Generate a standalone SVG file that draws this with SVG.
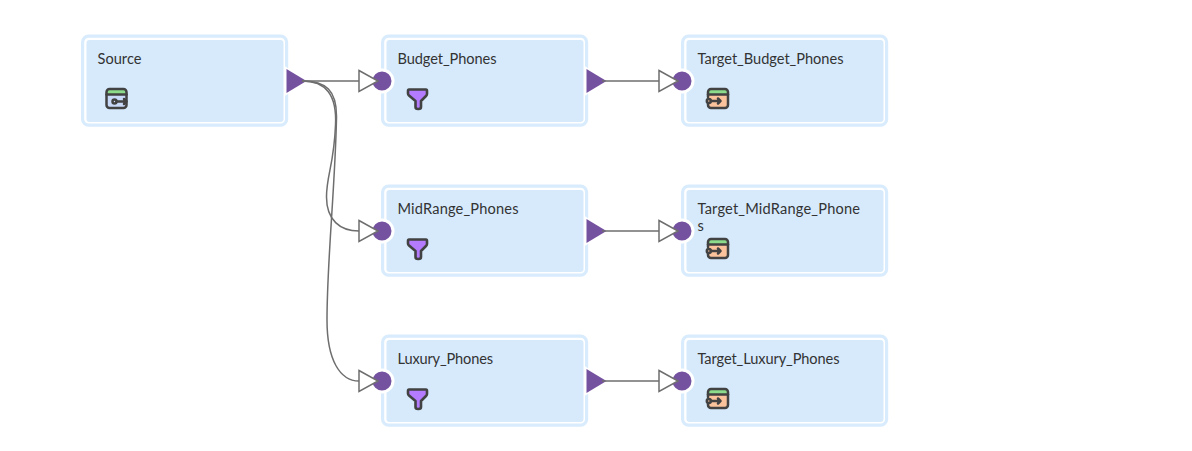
<svg xmlns="http://www.w3.org/2000/svg" width="1192" height="451" viewBox="0 0 1192 451">
<style>
.box{fill:#fff;stroke:#d9ecfd;stroke-width:3.200}
.in{fill:#d6eafc}
.t{font-family:"Lato","Noto Sans",sans-serif;font-size:14.600px;fill:#333}
.c{fill:none;stroke:#6e6e6e;stroke-width:1.500}
.a{fill:#fff;stroke:#6e6e6e;stroke-width:1.500;stroke-linejoin:miter}
.op{fill:#7552a0;stroke:#fff;stroke-width:3;paint-order:stroke}
.ip{fill:#7552a0;stroke:#fff;stroke-width:3}
.k{fill:none;stroke:#424242;stroke-width:2.500;stroke-linecap:round;stroke-linejoin:round}
</style>
<defs>
<g id="frame">
<rect class="box" x="2.600" y="2.200" width="204" height="89" rx="6"/>
<rect class="in" x="6.500" y="6" width="197" height="82" rx="3"/>
</g>
<path id="outp" class="op" d="M0 -12L20 0L0 12Z"/>
<path id="arrow" class="a" d="M0 -10.500L19 0L0 10.500Z"/>
<g id="srcIcon">
<rect x="1" y="1" width="20" height="19" rx="3" fill="#c9daf8"/>
<path d="M1 6.500V4a3 3 0 0 1 3-3h14a3 3 0 0 1 3 3v2.500z" fill="#8cdc8c"/>
<rect class="k" x="1" y="1" width="20" height="19" rx="3"/>
<path class="k" d="M1 6.500H21"/>
<circle class="k" cx="9" cy="13.500" r="2"/>
<path class="k" d="M11 13.500H21M18.500 11L21 13.500L18.500 16"/>
</g>
<path id="fltIcon" d="M2 1.500H19Q20 1.500 20 3V6Q20 7 19 8L14 13V19Q14 21 11.500 21H11Q8.500 21 8.500 19V13L2 7.500Q1 6.500 1 5.500V3Q1 1.500 2 1.500Z" fill="#b57bff" stroke="#424242" stroke-width="2.600" stroke-linejoin="round"/>
<g id="tgtIcon">
<rect x="1" y="1" width="20" height="19" rx="3" fill="#fbc39c"/>
<path d="M1 6.500V4a3 3 0 0 1 3-3h14a3 3 0 0 1 3 3v2.500z" fill="#8cdc8c"/>
<path class="k" d="M1 9V4a3 3 0 0 1 3-3h14a3 3 0 0 1 3 3v13a3 3 0 0 1-3 3H4a3 3 0 0 1-3-3v-1"/>
<path class="k" d="M1 6.500H21"/>
<circle class="k" cx="1.800" cy="13" r="2"/>
<path class="k" d="M4 13H13.500M11 10.500L13.500 13L11 15.500"/>
</g>
</defs>
<g id="Source" transform="translate(80,34)">
<use href="#frame"/>
<text class="t" x="17.500" y="30" textLength="44">Source</text>
<use href="#srcIcon" x="25.500" y="54"/>
<use href="#outp" x="206.500" y="47"/>
</g>
<g id="Budget_Phones" transform="translate(380,34)">
<use href="#frame"/>
<text class="t" x="17.500" y="30" textLength="99">Budget_Phones</text>
<use href="#fltIcon" x="27" y="54"/>
<use href="#outp" x="206.500" y="47"/>
</g>
<g id="MidRange_Phones" transform="translate(380,184)">
<use href="#frame"/>
<text class="t" x="17.500" y="30" textLength="121">MidRange_Phones</text>
<use href="#fltIcon" x="27" y="54"/>
<use href="#outp" x="206.500" y="47"/>
</g>
<g id="Luxury_Phones" transform="translate(380,334)">
<use href="#frame"/>
<text class="t" x="17.500" y="30" textLength="95.500">Luxury_Phones</text>
<use href="#fltIcon" x="27" y="54"/>
<use href="#outp" x="206.500" y="47"/>
</g>
<g id="Target_Budget_Phones" transform="translate(680,34)">
<use href="#frame"/>
<text class="t" x="17.500" y="30" textLength="146">Target_Budget_Phones</text>
<use href="#tgtIcon" x="27" y="54"/>
</g>
<g id="Target_MidRange_Phones" transform="translate(680,184)">
<use href="#frame"/>
<text class="t" x="17.500" y="30" textLength="162.500">Target_MidRange_Phone</text>
<text class="t" x="17.500" y="47">s</text>
<use href="#tgtIcon" x="27" y="54"/>
</g>
<g id="Target_Luxury_Phones" transform="translate(680,334)">
<use href="#frame"/>
<text class="t" x="17.500" y="30" textLength="142">Target_Luxury_Phones</text>
<use href="#tgtIcon" x="27" y="54"/>
</g>
<g id="ports">
<circle class="ip" cx="382" cy="81" r="11"/>
<circle class="ip" cx="382" cy="231" r="11"/>
<circle class="ip" cx="382" cy="381" r="11"/>
<circle class="ip" cx="682" cy="81" r="11"/>
<circle class="ip" cx="682" cy="231" r="11"/>
<circle class="ip" cx="682" cy="381" r="11"/>
</g>
<g id="connectors">
<path class="c" d="M302 81H359"/>
<path class="c" d="M302 81C326 81 337 95 335.500 125C334 165 326.500 175 326.500 197C326.500 220 340 231 359 231"/>
<path class="c" d="M302 81C326 81 337 90 336.500 118C335 190 327 260 327 320C327 360 340 381 359 381"/>
<path class="c" d="M602 81H659"/>
<path class="c" d="M602 231H659"/>
<path class="c" d="M602 381H659"/>
<use href="#arrow" x="359" y="81"/>
<use href="#arrow" x="359" y="231"/>
<use href="#arrow" x="359" y="381"/>
<use href="#arrow" x="659" y="81"/>
<use href="#arrow" x="659" y="231"/>
<use href="#arrow" x="659" y="381"/>
</g>
</svg>
